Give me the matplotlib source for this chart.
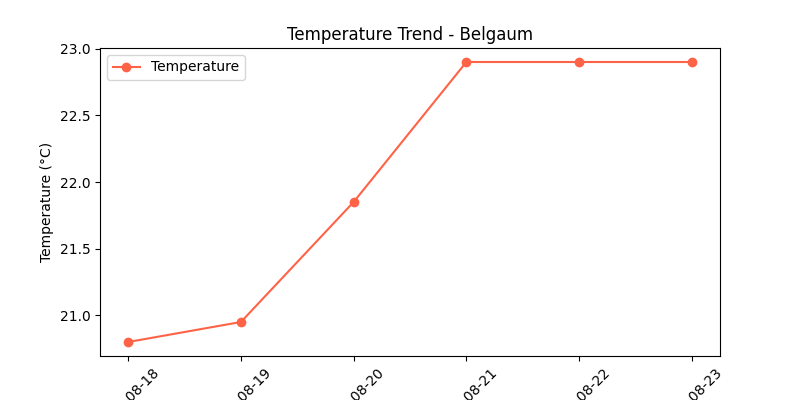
import matplotlib
matplotlib.use('Agg')
import matplotlib.pyplot as plt
import matplotlib.dates as mdates
import pandas as pd

city = 'Belgaum'
dates = pd.to_datetime(['2024-08-18', '2024-08-19', '2024-08-20',
                        '2024-08-21', '2024-08-22', '2024-08-23'])
temperature = [20.8, 20.95, 21.85, 22.9, 22.9, 22.9]

fig, ax = plt.subplots(figsize=(8, 4), dpi=100)
ax.plot(dates, temperature, marker='o', color='tomato', label='Temperature')
ax.set_title(f'Temperature Trend - {city}')
ax.set_ylabel('Temperature (°C)')
# full dates, the year part falls off the bottom edge like in the original
ax.xaxis.set_major_locator(mdates.DayLocator())
ax.xaxis.set_major_formatter(mdates.DateFormatter('%Y-%m-%d'))
plt.xticks(rotation=45)
ax.legend(loc='upper left')

plt.savefig('out.png')
plt.close()
